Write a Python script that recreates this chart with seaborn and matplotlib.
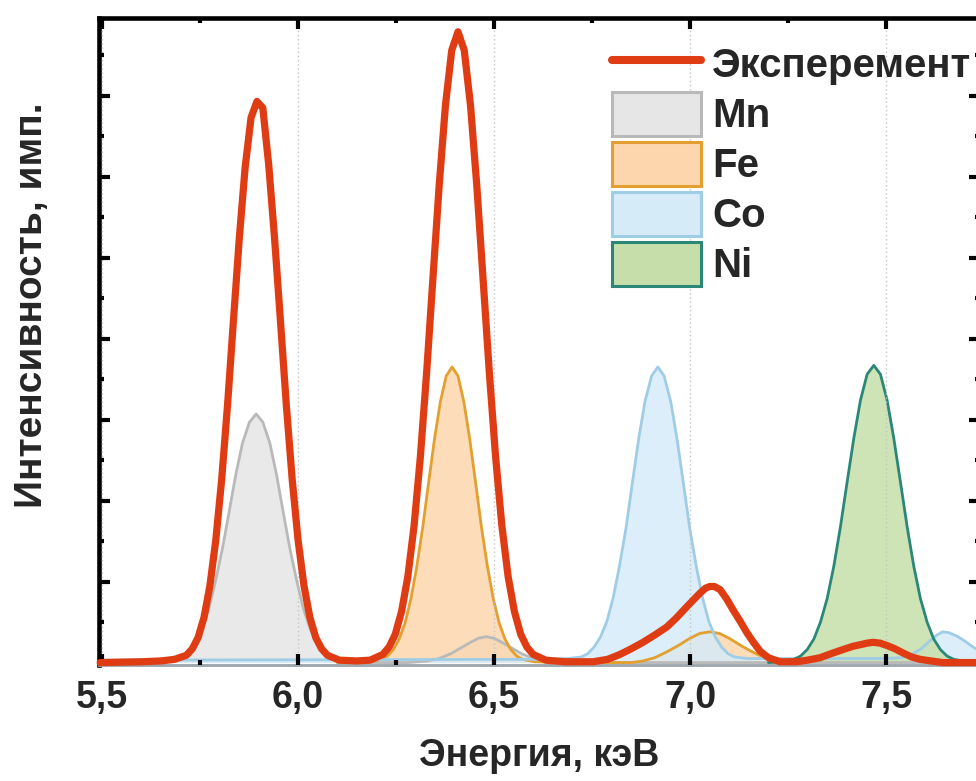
import numpy as np
import pandas as pd
import matplotlib
matplotlib.use("Agg")
import matplotlib.pyplot as plt
import seaborn as sns
from matplotlib.patches import Patch
from matplotlib.lines import Line2D
from matplotlib.ticker import MultipleLocator

# ---------------- data ----------------
exp_label = "Эксперемент"
exp_x = [5.495, 5.600, 5.650, 5.685, 5.715, 5.730, 5.745, 5.760, 5.775, 5.790, 5.805, 5.820,
         5.835, 5.850, 5.865, 5.880,
         5.895,
         5.910, 5.925, 5.940, 5.955, 5.970, 5.985, 6.000, 6.015, 6.030, 6.045, 6.060, 6.075, 6.105,
         6.150, 6.184, 6.216, 6.232, 6.248, 6.264, 6.280, 6.296, 6.312, 6.328, 6.344, 6.360,
         6.376, 6.392,
         6.408,
         6.424, 6.440, 6.456, 6.472, 6.488, 6.504, 6.520, 6.536, 6.552, 6.568, 6.584, 6.600,
         6.632, 6.680, 6.753,
         6.790, 6.821, 6.850, 6.880, 6.910, 6.941, 6.965, 6.992, 7.010, 7.026, 7.040, 7.051,
         7.062, 7.077, 7.093, 7.110, 7.128, 7.145, 7.162, 7.179, 7.200, 7.230,
         7.273, 7.300, 7.332, 7.360, 7.390, 7.415, 7.434, 7.452, 7.467, 7.485, 7.503, 7.523,
         7.543, 7.565, 7.587, 7.615, 7.645, 7.730]
exp_y = [0.00, 0.01, 0.02, 0.04, 0.09, 0.17, 0.31, 0.56, 0.95, 1.51, 2.26, 3.18,
         4.22, 5.24, 6.12, 6.73,
         6.93,
         6.85, 6.15, 5.24, 4.22, 3.18, 2.26, 1.51, 0.95, 0.56, 0.31, 0.17, 0.09, 0.03,
         0.02, 0.03, 0.10, 0.19, 0.35, 0.63, 1.06, 1.69, 2.54, 3.58, 4.74, 5.89,
         6.88, 7.56,
         7.79,
         7.56, 6.88, 5.89, 4.74, 3.58, 2.54, 1.69, 1.06, 0.63, 0.35, 0.19, 0.10,
         0.03, 0.01, 0.01,
         0.04, 0.10, 0.17, 0.25, 0.34, 0.44, 0.55, 0.69, 0.78, 0.86, 0.92, 0.94,
         0.94, 0.90, 0.79, 0.65, 0.51, 0.37, 0.25, 0.14, 0.06, 0.01,
         0.01, 0.03, 0.06, 0.11, 0.16, 0.20, 0.22, 0.24, 0.25, 0.24, 0.21, 0.17,
         0.12, 0.07, 0.04, 0.02, 0.00, 0.00]

mn_x = [5.490, 5.651, 5.686, 5.703, 5.720, 5.738, 5.755, 5.772, 5.789, 5.807, 5.824, 5.841,
        5.858, 5.876, 5.893, 5.910, 5.928, 5.945, 5.962, 5.979, 5.997, 6.014, 6.031, 6.048,
        6.066, 6.083, 6.100, 6.135, 6.200, 6.280, 6.330, 6.360, 6.390, 6.415, 6.440, 6.460,
        6.480, 6.500, 6.520, 6.545, 6.570, 6.600, 6.630, 6.680, 7.740]
mn_y = [0.00, 0.01, 0.03, 0.07, 0.14, 0.25, 0.41, 0.66, 1.00, 1.41, 1.86, 2.32,
        2.71, 2.97, 3.07, 2.97, 2.71, 2.32, 1.86, 1.41, 1.00, 0.66, 0.41, 0.25,
        0.14, 0.07, 0.03, 0.01, 0.00, 0.00, 0.02, 0.05, 0.11, 0.18, 0.25, 0.30,
        0.32, 0.30, 0.25, 0.18, 0.11, 0.05, 0.02, 0.00, 0.00]

fe_x = [6.100, 6.183, 6.213, 6.228, 6.243, 6.258, 6.273, 6.288, 6.303, 6.318, 6.333, 6.348,
        6.363, 6.378, 6.393, 6.408, 6.423, 6.438, 6.453, 6.468, 6.483, 6.498, 6.513, 6.528,
        6.543, 6.558, 6.573, 6.603, 6.680, 6.850, 6.880, 6.910, 6.940, 6.970, 7.000, 7.025,
        7.051, 7.075, 7.100, 7.130, 7.160, 7.190, 7.220, 7.250]
fe_y = [0.00, 0.01, 0.04, 0.08, 0.16, 0.29, 0.49, 0.79, 1.19, 1.67, 2.22, 2.76,
        3.22, 3.54, 3.65, 3.54, 3.22, 2.76, 2.22, 1.67, 1.19, 0.79, 0.49, 0.29,
        0.16, 0.08, 0.04, 0.01, 0.00, 0.00, 0.02, 0.06, 0.13, 0.21, 0.30, 0.36,
        0.38, 0.36, 0.30, 0.21, 0.13, 0.06, 0.02, 0.00]

co_x = [5.490, 6.600, 6.690, 6.723, 6.739, 6.755, 6.772, 6.788, 6.804, 6.820, 6.837, 6.853,
        6.869, 6.885, 6.902, 6.918, 6.934, 6.951, 6.967, 6.983, 6.999, 7.016, 7.032, 7.048,
        7.064, 7.081, 7.097, 7.113, 7.146, 7.500, 7.540, 7.565, 7.590, 7.610, 7.630, 7.645,
        7.660, 7.680, 7.700, 7.720, 7.740]
co_y = [0.03, 0.04, 0.05, 0.07, 0.11, 0.19, 0.32, 0.51, 0.80, 1.19, 1.67, 2.22,
        2.76, 3.22, 3.54, 3.65, 3.54, 3.22, 2.76, 2.22, 1.67, 1.19, 0.80, 0.51,
        0.32, 0.19, 0.11, 0.07, 0.05, 0.05, 0.06, 0.10, 0.17, 0.26, 0.34, 0.38,
        0.37, 0.33, 0.27, 0.20, 0.14]

ni_x = [7.200, 7.231, 7.265, 7.282, 7.299, 7.316, 7.333, 7.350, 7.367, 7.384, 7.401, 7.418,
        7.435, 7.452, 7.469, 7.486, 7.503, 7.520, 7.537, 7.554, 7.571, 7.588, 7.605, 7.622,
        7.639, 7.656, 7.673, 7.707, 7.740]
ni_y = [0.00, 0.01, 0.04, 0.08, 0.16, 0.29, 0.50, 0.79, 1.19, 1.68, 2.23, 2.77,
        3.24, 3.56, 3.67, 3.56, 3.24, 2.77, 2.23, 1.68, 1.19, 0.79, 0.50, 0.29,
        0.16, 0.08, 0.04, 0.01, 0.00]

component_names = ["Mn", "Fe", "Co", "Ni"]
xtick_values = [5.5, 6.0, 6.5, 7.0, 7.5]
xtick_labels = ["5,5", "6,0", "6,5", "7,0", "7,5"]
x_title = "Энергия, кэВ"
y_title = "Интенсивность, имп."

# ---------------- style ----------------
sns.set_theme(style="white")
plt.rcParams["font.family"] = ["Liberation Sans", "DejaVu Sans"]
plt.rcParams["font.weight"] = "bold"

exp_color = "#E03C14"
fill_colors = ["#E6E6E6", "#FDD6AE", "#D6EBF8", "#C6DFAA"]
edge_colors = ["#B9B9B9", "#E3A030", "#9FCDE6", "#2B8878"]
comp_x = [mn_x, fe_x, co_x, ni_x]
comp_y = [mn_y, fe_y, co_y, ni_y]

W, H = 976, 781
fig = plt.figure(figsize=(W / 100, H / 100), dpi=100)
ax = fig.add_axes([99 / W, 116 / H, 881 / W, 647 / H])

for name, xs, ys, fc, ec in zip(component_names, comp_x, comp_y, fill_colors, edge_colors):
    ax.fill_between(xs, ys, 0, color=fc, alpha=0.85, lw=0, zorder=1)
    df = pd.DataFrame({"x": xs, "y": ys})
    sns.lineplot(data=df, x="x", y="y", ax=ax, color=ec, lw=2.0, sort=False,
                 estimator=None, zorder=2, solid_joinstyle="round")

df_exp = pd.DataFrame({"x": exp_x, "y": exp_y})
sns.lineplot(data=df_exp, x="x", y="y", ax=ax, color=exp_color, lw=5.2, sort=False,
             estimator=None, zorder=5, clip_on=False, solid_joinstyle="round",
             solid_capstyle="round")

ax.set_xlim(5.492, 7.74)
ax.set_ylim(-0.03, 7.96)

ax.set_xticks(xtick_values)
ax.set_xticklabels(xtick_labels)
ax.xaxis.set_minor_locator(MultipleLocator(0.25))
ax.yaxis.set_major_locator(MultipleLocator(1))
ax.yaxis.set_minor_locator(MultipleLocator(0.5))
ax.set_yticklabels([])

ax.tick_params(which="both", direction="in", top=True, right=True, bottom=True, left=True,
               color="black")
ax.tick_params(which="major", length=8, width=3)
ax.tick_params(which="minor", length=3.8, width=3)
ax.tick_params(axis="x", which="major", labelsize=27, pad=11)
for lab in ax.get_xticklabels():
    lab.set_fontweight("bold")

ax.grid(False)
ax.xaxis.grid(True, which="major", linestyle=(0, (1, 2)), color="#c4c4c4", linewidth=1)
ax.set_axisbelow(False)

for side in ["top", "left", "right"]:
    ax.spines[side].set_color("black")
    ax.spines[side].set_linewidth(3.3)
ax.spines["bottom"].set_color("#9aa4aa")
ax.spines["bottom"].set_linewidth(2)

ax.set_xlabel(x_title, fontsize=27, fontweight="bold", labelpad=16)
ax.set_ylabel(y_title, fontsize=28, fontweight="bold")
ax.yaxis.set_label_coords(-0.056, 0.556)

handles = [Line2D([0], [0], color=exp_color, lw=5.8, solid_capstyle="round")]
for fc, ec in zip(fill_colors, edge_colors):
    handles.append(Patch(facecolor=fc, edgecolor=ec, lw=2.2))
labels = [exp_label] + component_names
leg = fig.legend(handles, labels, loc="upper left", bbox_to_anchor=(612 / W, 1 - 42 / H),
                 frameon=False, prop={"weight": "bold", "size": 29},
                 handlelength=2.21, handleheight=1.30, handletextpad=0.27,
                 labelspacing=0.15, borderpad=0, borderaxespad=0)

fig.savefig("out.png", dpi=100)
